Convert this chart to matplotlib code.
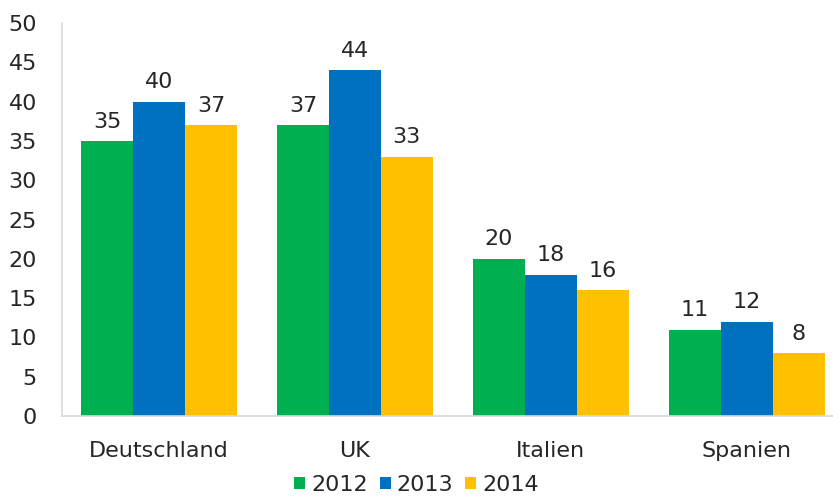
import matplotlib.pyplot as plt
import numpy as np

countries = ["Deutschland", "UK", "Italien", "Spanien"]
years = ["2012", "2013", "2014"]
values_2012 = [35, 37, 20, 11]
values_2013 = [40, 44, 18, 12]
values_2014 = [37, 33, 16, 8]
colors = ["#00B050", "#0070C0", "#FFC000"]

plt.rcParams["font.family"] = ["DejaVu Sans"]
fs = 16

fig = plt.figure(figsize=(8.33, 4.99), dpi=100)
ax = fig.add_axes([0.0744, 0.1663, 0.9256, 0.7875])

x = np.arange(len(countries))
width = 0.265
series = [values_2012, values_2013, values_2014]
for i, (vals, year, col) in enumerate(zip(series, years, colors)):
    pos = x + (i - 1) * width
    bars = ax.bar(pos, vals, width, color=col, label=year)
    for b, v in zip(bars, vals):
        ax.text(b.get_x() + b.get_width() / 2, v + 1.2, str(v),
                ha="center", va="bottom", fontsize=fs, color="#262626")

ax.set_ylim(0, 50)
ax.set_yticks(range(0, 51, 5))
ax.set_xlim(-0.495, 3.44)
ax.set_xticks(x)
ax.set_xticklabels(countries)

for side in ["top", "right"]:
    ax.spines[side].set_visible(False)
for side in ["left", "bottom"]:
    ax.spines[side].set_color("#d9d9d9")
    ax.spines[side].set_linewidth(1.2)

ax.tick_params(axis="both", length=0, labelsize=fs, colors="#262626")
ax.tick_params(axis="y", pad=18)
ax.tick_params(axis="x", pad=18)

fig.legend(loc="lower center", bbox_to_anchor=(0.50, -0.032), ncol=3,
           frameon=False, fontsize=fs, handlelength=0.5, handleheight=0.5,
           handletextpad=0.25, columnspacing=0.55, labelcolor="#262626")

fig.savefig("out.png", dpi=100)
